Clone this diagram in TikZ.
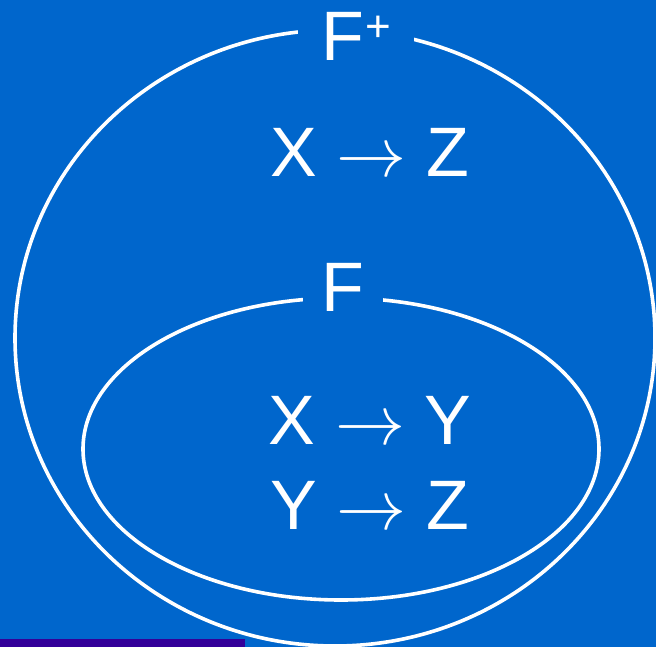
\documentclass[tikz,border=0pt]{standalone}
\usepackage{fix-cm}
\usepackage{fontspec}
\setmainfont{Liberation Sans}
\definecolor{bgblue}{HTML}{0066CC}
\definecolor{barpurple}{HTML}{330099}
\newcommand{\fdarrow}{$\rightarrow$}
\newcommand{\plussup}{\raisebox{19pt}{\fontsize{44}{44}\selectfont +}}

\begin{document}
\begin{tikzpicture}[
    x=1pt, y=-1pt,
    ring/.style={draw=white, line width=3.6pt},
    fd/.style={text=white, font=\fontsize{70}{84}\selectfont, anchor=base, inner sep=0pt},
    setname/.style={fd, fill=bgblue, inner xsep=19pt, inner ysep=4pt}
]
\fill[bgblue] (0,0) rectangle (656,647);
\useasboundingbox (0,0) rectangle (656,647);
\fill[barpurple] (0,639) rectangle (245,647);

% closure and its generating set
\draw[ring] (335,338) ellipse [x radius=320, y radius=308];
\draw[ring] (341,449) ellipse [x radius=258, y radius=151];

\node[setname, inner xsep=23pt] (closure) at (356,61) {F\kern1pt\plussup};
\node[setname] (base) at (343,311) {F};

\node[fd] (xz) at (370,177) {X \fdarrow{} Z};
\node[fd] (xy) at (370,444) {X \fdarrow{} Y};
\node[fd] (yz) at (370,529) {Y \fdarrow{} Z};
\end{tikzpicture}
\end{document}
